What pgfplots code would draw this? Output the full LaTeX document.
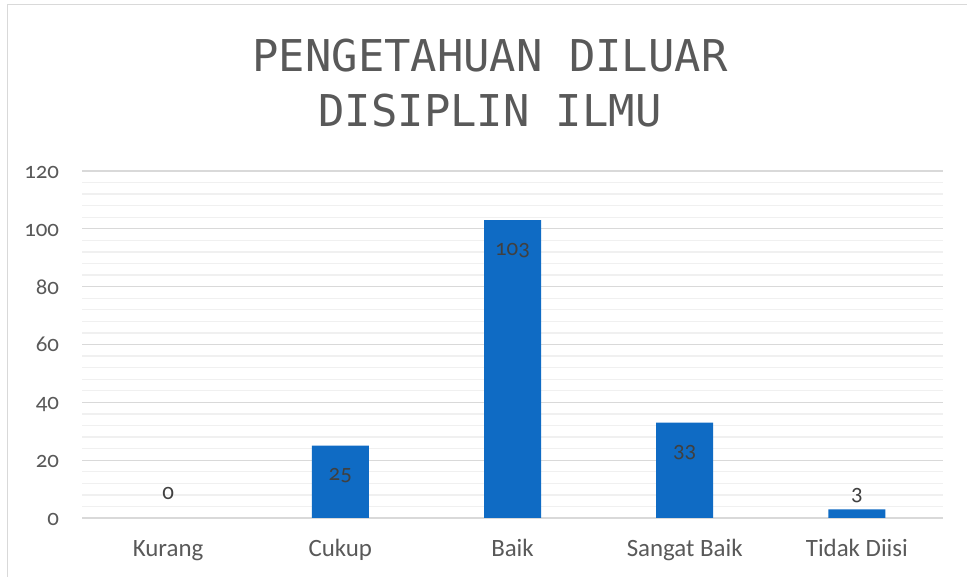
\documentclass[border=0pt]{standalone}
\usepackage{fontspec}
\setmainfont{Carlito}[Numbers=OldStyle]
\newfontfamily\titlefont{DejaVu Sans Mono}
\usepackage{pgfplots}
\usepackage{pgfplotstable}
\pgfplotsset{compat=1.18}
\definecolor{txt}{HTML}{595959}
\definecolor{lbl}{HTML}{404040}
\definecolor{gridmaj}{HTML}{D9D9D9}
\definecolor{gridmin}{HTML}{F0F0F0}
\definecolor{frame}{HTML}{D9D9D9}
\definecolor{barblue}{HTML}{0F6BC4}
\pgfplotstableread{
x y dy
0 0 18
1 25 -35
2 103 -35
3 33 -35
4 3 9
}\datatable
\begin{document}
\begin{tikzpicture}[x=1bp,y=1bp]
\useasboundingbox (0,0) rectangle (967,577);
\fill[white] (0,0) rectangle (967,577);
\draw[color=frame, line width=1.5bp] (7.5,0) -- (7.5,572.5) -- (967,572.5);
\node[anchor=base, inner sep=0pt, text=txt, font=\titlefont\fontsize{44}{55}\selectfont] at (490,505) {PENGETAHUAN DILUAR};
\node[anchor=base, inner sep=0pt, text=txt, font=\titlefont\fontsize{44}{55}\selectfont] at (490,450) {DISIPLIN ILMU};
\begin{axis}[
  at={(82bp,59bp)}, anchor=south west,
  scale only axis, width=861bp, height=347bp,
  xmin=-0.5, xmax=4.5, ymin=0, ymax=120,
  axis line style={draw=none},
  major tick length=0pt, minor tick length=0pt,
  ytick={0,20,...,120}, minor y tick num=4,
  ymajorgrids, yminorgrids,
  major grid style={color=gridmaj, line width=1.3bp},
  minor grid style={color=gridmin, line width=1.3bp},
  xtick={0,1,2,3,4},
  xticklabels={Kurang,Cukup,Baik,Sangat Baik,Tidak Diisi},
  /pgf/number format/assume math mode=true,
  tick label style={text=txt},
  yticklabel style={font=\fontsize{23}{27}\selectfont, anchor=base east, inner sep=0pt, xshift=-22.7bp, yshift=-7.5bp},
  xticklabel style={font=\fontsize{25}{29}\selectfont, anchor=base, inner sep=0pt, yshift=-39bp},
  clip=false,
]
\addplot[ybar, bar width=57bp, fill=barblue, draw=none, restrict y to domain=0.5:200] table[x=x, y=y] {\datatable};
\addplot[draw=none, mark=none,
  visualization depends on={\thisrow{dy}\as\dy},
  nodes near coords,
  every node near coord/.append style={anchor=base, inner sep=0pt, yshift=\dy bp, text=lbl, font=\fontsize{23}{27}\selectfont},
] table[x=x, y=y] {\datatable};
\end{axis}
\end{tikzpicture}
\end{document}
